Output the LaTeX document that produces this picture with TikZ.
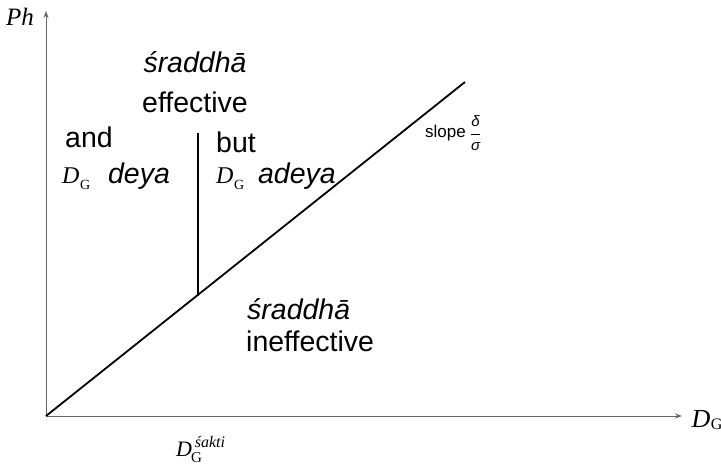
\documentclass[tikz,border=0pt]{standalone}
\usepackage{fontspec}
\setmainfont{Liberation Sans}
\newfontfamily\serif{Liberation Serif}
\usetikzlibrary{arrows.meta}
\newcommand\myDG[2]{{\serif\fontsize{#1}{#1}\selectfont\itshape D}\kern0.5pt\raisebox{-0.22em}{\serif\fontsize{#2}{#2}\selectfont G}}
\begin{document}
\begin{tikzpicture}[x=1pt,y=-1pt,
  axis/.style={draw=black!60,line width=0.9pt},
  bold/.style={draw=black,line width=1.8pt},
  big/.style={font=\fontsize{28.5}{32}\selectfont,inner sep=0pt},
  lbl/.style={inner sep=0pt}]
\useasboundingbox (0,0) rectangle (721,468);
\coordinate (O) at (46,416);
\coordinate (Ytop) at (46,11);
\coordinate (Xend) at (682,416);
\coordinate (Dtop) at (465,82);
\coordinate (Vtop) at (198,133);
\coordinate (Vbot) at (198,295.5);
\draw[axis,-{Stealth[length=7pt,width=5pt]}] (O) -- (Ytop);
\draw[axis,-{Stealth[length=7pt,width=5pt]}] (O) -- (Xend);
\draw[bold] (O) -- (Dtop);
\draw[bold] (Vtop) -- (Vbot);
\node[lbl] (ph) at (20,17) {\serif\itshape\fontsize{25}{25}\selectfont Ph};
\node[big] (s1) at (195,62) {\itshape śraddhā};
\node[big] (eff) at (195,102) {effective};
\node[big] (and) at (89,137) {and};
\node[big,anchor=west] (deya) at (62,176) {\myDG{24}{14}\kern18pt\itshape deya};
\node[big,anchor=west] (but) at (216,142) {but};
\node[big,anchor=west] (adeya) at (216,176) {\myDG{24}{14}\kern14pt\itshape adeya};
\node[lbl,anchor=west] (slope) at (425,133) {\fontsize{17}{17}\selectfont slope\kern4pt\raisebox{-1pt}{$\displaystyle\frac{\mbox{\fontsize{15}{15}\selectfont\itshape δ}}{\mbox{\fontsize{15}{15}\selectfont\itshape σ}}$}};
\node[big,anchor=west] (s2) at (247,309) {\itshape śraddhā};
\node[big,anchor=west] (ineff) at (246,341) {ineffective};
\node[lbl,anchor=west] (shakti) at (176,450) {{\serif\itshape\fontsize{22}{22}\selectfont D}\kern-1pt\raisebox{-6pt}{\serif\fontsize{15}{15}\selectfont G}\kern-7pt\raisebox{9pt}{\serif\itshape\fontsize{16}{16}\selectfont śakti}};
\node[lbl] (dgx) at (707,420) {\myDG{26}{16}};
\end{tikzpicture}
\end{document}
